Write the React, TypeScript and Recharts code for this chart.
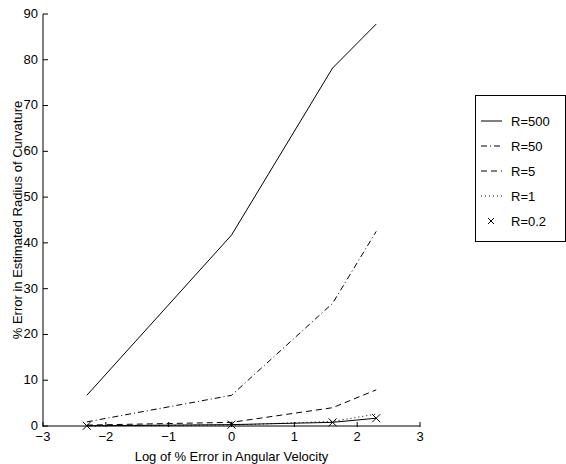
import { LineChart, Line, XAxis, YAxis, Label } from 'recharts';

// log of % error in angular velocity: ln(0.1), ln(1), ln(5), ln(10)
const logErr = [-2.303, 0, 1.609, 2.303];
const r500 = [6.7, 41.7, 78.2, 87.8];
const r50 = [0.9, 6.7, 26.8, 42.5];
const r5 = [0.2, 0.8, 4.0, 7.9];
const r1 = [0.05, 0.2, 1.0, 2.6];
const r02 = [0.05, 0.3, 0.8, 1.7];

const xTicks = [-3, -2, -1, 0, 1, 2, 3];
const yTicks = [0, 10, 20, 30, 40, 50, 60, 70, 80, 90];

const series = [
  { key: 'r500', name: 'R=500', dash: undefined as string | undefined, marker: false },
  { key: 'r50', name: 'R=50', dash: '6 3 1 3', marker: false },
  { key: 'r5', name: 'R=5', dash: '6 4', marker: false },
  { key: 'r1', name: 'R=1', dash: '1 3', marker: false },
  { key: 'r02', name: 'R=0.2', dash: undefined as string | undefined, marker: true },
];

const data = logErr.map((x, i) => ({
  x,
  r500: r500[i],
  r50: r50[i],
  r5: r5[i],
  r1: r1[i],
  r02: r02[i],
}));

const FONT = '"Liberation Sans", Arial, Helvetica, sans-serif';
const FS = 13;
const INK = '#000';

const fmt = (v: number) => (v < 0 ? `\u2212${Math.abs(v)}` : `${v}`);

const XTick = ({ x, y, payload }: any) => (
  <g>
    <line x1={x} x2={x} y1={y - 5} y2={y - 10} stroke={INK} strokeWidth={1} />
    <text x={x} y={y} dy="0.72em" textAnchor="middle" fontSize={FS} fontFamily={FONT} fill={INK}>
      {fmt(payload.value)}
    </text>
  </g>
);

const YTick = ({ x, y, payload }: any) => (
  <g>
    <line x1={x + 5} x2={x + 10} y1={y} y2={y} stroke={INK} strokeWidth={1} />
    <text x={x} y={y} dy="0.3em" textAnchor="end" fontSize={FS} fontFamily={FONT} fill={INK}>
      {payload.value}
    </text>
  </g>
);

const Cross = ({ cx, cy }: any) =>
  cx == null || cy == null ? null : (
    <path
      d={`M${cx - 4},${cy - 4}L${cx + 4},${cy + 4}M${cx - 4},${cy + 4}L${cx + 4},${cy - 4}`}
      stroke={INK}
      strokeWidth={1}
      fill="none"
    />
  );

const LegendBox = () => (
  <svg width={91} height={147} style={{ display: 'block' }}>
    <rect x={0.5} y={0.5} width={90} height={146} fill="#fff" stroke={INK} strokeWidth={1} />
    {series.map((s, i) => {
      const cy = 26 + i * 25;
      return (
        <g key={s.key}>
          {s.marker ? (
            <path
              d={`M${13},${cy - 3}L${19},${cy + 3}M${13},${cy + 3}L${19},${cy - 3}`}
              stroke={INK}
              strokeWidth={1}
            />
          ) : (
            <line x1={6} x2={27} y1={cy} y2={cy} stroke={INK} strokeWidth={1} strokeDasharray={s.dash} />
          )}
          <text x={36} y={cy} dy="0.35em" fontSize={FS} fontFamily={FONT} fill={INK}>
            {s.name}
          </text>
        </g>
      );
    })}
  </svg>
);

export default function App() {
  return (
    <div style={{ position: 'absolute', left: 0, top: 0, width: 566, height: 464, background: '#fff' }}>
      <LineChart width={566} height={464} data={data} margin={{ top: 14, right: 146, bottom: 0, left: 0 }}>
        <XAxis
          dataKey="x"
          type="number"
          domain={[-3, 3]}
          ticks={xTicks}
          tickSize={0}
          tickMargin={6}
          tick={<XTick />}
          axisLine={{ stroke: INK, strokeWidth: 1 }}
          height={38}
        >
          <Label
            value="Log of % Error in Angular Velocity"
            position="insideBottom"
            offset={3}
            style={{ fontSize: FS, fontFamily: FONT, fill: INK }}
          />
        </XAxis>
        <YAxis
          type="number"
          domain={[0, 90]}
          ticks={yTicks}
          tickSize={0}
          tickMargin={5}
          tick={<YTick />}
          axisLine={{ stroke: INK, strokeWidth: 1 }}
          width={43}
        >
          <Label
            value="% Error in Estimated Radius of Curvature"
            angle={-90}
            position="insideLeft"
            offset={17}
            style={{ fontSize: FS, fontFamily: FONT, fill: INK, textAnchor: 'middle' }}
          />
        </YAxis>
        {series.map((s) => (
          <Line
            key={s.key}
            dataKey={s.key}
            name={s.name}
            type="linear"
            stroke={INK}
            strokeWidth={1}
            strokeDasharray={s.dash}
            dot={s.marker ? <Cross /> : false}
            activeDot={false}
            isAnimationActive={false}
          />
        ))}
      </LineChart>
      <div style={{ position: 'absolute', left: 475, top: 95 }}>
        <LegendBox />
      </div>
    </div>
  );
}
